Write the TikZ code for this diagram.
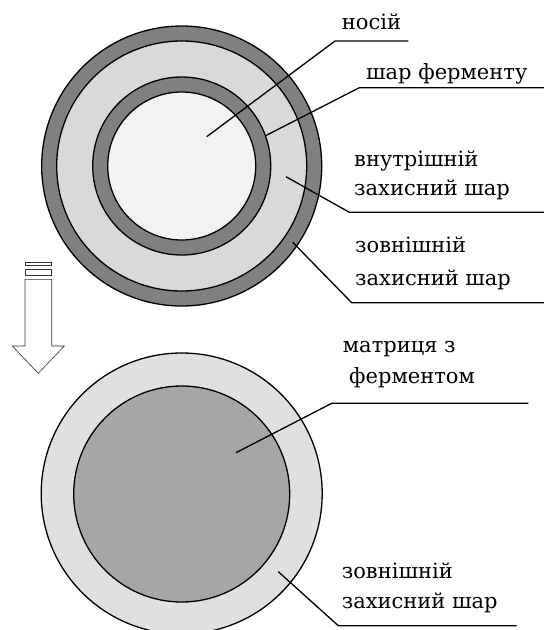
\documentclass[tikz,border=0pt]{standalone}
\usepackage{fontspec}
\setmainfont{DejaVu Serif}
\definecolor{darkring}{HTML}{808080}
\definecolor{lightring}{HTML}{D9D9D9}
\definecolor{core}{HTML}{F2F2F2}
\definecolor{outerb}{HTML}{E0E0E0}
\definecolor{matrix}{HTML}{A6A6A6}
\begin{document}
\begin{tikzpicture}[x=1pt,y=-1pt,
  ring/.style={draw=black,line width=1.3pt},
  leader/.style={draw=black,line width=1.3pt},
  lbl/.style={anchor=base west,inner sep=0pt,font=\fontsize{21}{26}\selectfont},
  arrowline/.style={draw=black!80,line width=0.6pt}]
\useasboundingbox (0,0) rectangle (544,630);
% top particle
\fill[ring,fill=darkring] (181.7,166) circle (140);
\fill[ring,fill=lightring] (181.7,166) circle (125);
\fill[ring,fill=darkring] (181.7,166) circle (89);
\fill[ring,fill=core] (181.7,166) circle (74);
% bottom particle
\fill[ring,fill=outerb] (181.7,493.5) circle (140.5);
\fill[ring,fill=matrix] (181.7,494) circle (108);
% labels top
\node[lbl] (t1) at (341.7,29.3) {носій};
\node[lbl] (t2) at (366,79.3) {шар ферменту};
\node[lbl] (t3a) at (354,166.7) {внутрішній};
\node[lbl] (t3b) at (354,195) {захисний шар};
\node[lbl] (t4a) at (355,252.3) {зовнішній};
\node[lbl] (t4b) at (355,285) {захисний шар};
% labels bottom
\node[lbl] (b1a) at (342.7,352.7) {матриця з};
\node[lbl] (b1b) at (349,383.3) {ферментом};
\node[lbl] (b2a) at (341.7,578.3) {зовнішній};
\node[lbl] (b2b) at (341.7,608.3) {захисний шар};
% leader coordinates
\coordinate (s1) at (206.7,136.7); \coordinate (k1) at (335,41); \coordinate (e1) at (408.3,41);
\coordinate (s2) at (265,136); \coordinate (k2) at (359.3,87.7); \coordinate (e2) at (544,87.7);
\coordinate (s3) at (286,176.7); \coordinate (k3) at (349.3,212.3); \coordinate (e3) at (544,212.3);
\coordinate (s4) at (292.7,242.3); \coordinate (k4) at (351.7,302.7); \coordinate (e4) at (544,302.7);
\coordinate (s5) at (236,452.7); \coordinate (k5) at (331.7,403.3); \coordinate (e5) at (528.3,403.3);
\coordinate (s6) at (278.3,571.7); \coordinate (k6) at (338.3,625.7); \coordinate (e6) at (516.7,625.7);
\draw[leader] (s1) -- (k1) -- (e1);
\draw[leader] (s2) -- (k2) -- (e2);
\draw[leader] (s3) -- (k3) -- (e3);
\draw[leader] (s4) -- (k4) -- (e4);
\draw[leader] (s5) -- (k5) -- (e5);
\draw[leader] (s6) -- (k6) -- (e6);
% hollow arrow
\draw[arrowline] (25,262.3) rectangle (51.7,265.7);
\draw[arrowline] (25,269) rectangle (51.7,275.7);
\draw[arrowline] (25,279.3) -- (25,346) -- (12.3,346) -- (38.3,373.3) -- (64.3,346) -- (51.7,346) -- (51.7,279.3) -- cycle;
\end{tikzpicture}
\end{document}
